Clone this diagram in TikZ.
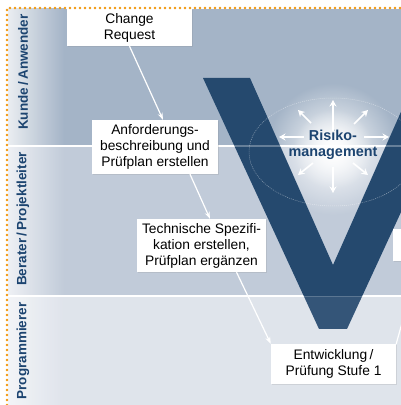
\documentclass[tikz,border=0pt]{standalone}
\usepackage{fontspec}
\setmainfont{Liberation Sans}
\usetikzlibrary{arrows.meta,shadows,fadings}

\definecolor{laneA}{RGB}{164,180,199}
\definecolor{laneB}{RGB}{193,203,217}
\definecolor{laneC}{RGB}{221,226,234}
\definecolor{stripA}{RGB}{234,237,241}
\definecolor{stripB}{RGB}{238,240,244}
\definecolor{stripC}{RGB}{242,244,247}
\definecolor{vblue}{RGB}{37,73,110}
\definecolor{labelblue}{RGB}{28,68,112}
\definecolor{dotorange}{RGB}{242,150,10}

\tikzfading[name=glowfade, inner color=transparent!0, outer color=transparent!100]

\begin{document}
\begin{tikzpicture}[x=1pt,y=1pt,
    box/.style={fill=white, align=center, inner sep=0pt,
      font=\fontsize{13.8}{16}\selectfont,
      drop shadow={shadow xshift=1pt,shadow yshift=-1.2pt,opacity=0.18}},
    lanelabel/.style={rotate=90, text=labelblue,
      font=\bfseries\fontsize{13.5}{15}\selectfont},
    flow/.style={white, line width=1.2pt, -{Stealth[length=7pt,width=5pt]}},
    ray/.style={white, line width=1.7pt, -{Stealth[length=6.5pt,width=7pt]}}]

\useasboundingbox (0,0) rectangle (401,405);
\clip (0,0) rectangle (401,405);
\fill[white] (0,0) rectangle (401,405);

% swim lanes
\fill[laneA] (8,259) rectangle (401,396);
\fill[laneB] (8,109) rectangle (401,259);
\fill[laneC] (8,0) rectangle (401,109);
\shade[left color=stripA, right color=laneA] (8,259) rectangle (64,396);
\shade[left color=stripB, right color=laneB] (8,109) rectangle (64,259);
\shade[left color=stripC, right color=laneC] (8,0) rectangle (64,109);
\draw[white, line width=2.6pt] (8,259) -- (401,259);
\draw[white, line width=2.6pt] (8,109) -- (401,109);

% glow behind the V
\fill[white, path fading=glowfade] (333,256) circle (66pt);
\fill[white, path fading=glowfade, fill opacity=0.9] (333,256) circle (40pt);

% the V
\fill[vblue] (203,327) -- (250,327) -- (333,140) -- (416,327) -- (463,327)
  -- (347,76) -- (319,76) -- cycle;
\fill[white, opacity=0.07] (8,0) rectangle (401,108);
\draw[white, opacity=0.3, line width=1.2pt] (8,259) -- (401,259);
\draw[white, opacity=0.25, line width=0.8pt] (8,109) -- (401,109);
\draw[white, opacity=0.45, line width=0.5pt, dash pattern=on 1pt off 1pt]
  (333,253) ellipse (84pt and 54pt);

% risk management
\node[align=center, text=labelblue, font=\bfseries\fontsize{14.4}{15.5}\selectfont]
  at (333,260) (rm) {Risiko-\\management};
\draw[ray] ([yshift=14pt]rm.center) -- ++(0,31);
\draw[ray] ([yshift=-22pt]rm.center) -- ++(0,-26);
\draw[ray] ([shift={(-29pt,8pt)}]rm.center) -- ++(-25,0);
\draw[ray] ([shift={(31pt,8pt)}]rm.center) -- ++(25,0);
\draw[ray] ([shift={(-22pt,22pt)}]rm.center) -- ++(-13,13);
\draw[ray] ([shift={(21pt,21pt)}]rm.center) -- ++(14,14);
\draw[ray] ([shift={(-20pt,-18pt)}]rm.center) -- ++(-15,-12);
\draw[ray] ([shift={(20pt,-18pt)}]rm.center) -- ++(15,-12);

% steps
\node[box, minimum width=125pt, minimum height=37pt] at (129.5,377.5) (cr) {Change\\Request};
\node[box, minimum width=126pt, minimum height=54pt] at (155,258) (ab) {Anforderungs-\\beschreibung und\\Prüfplan erstellen};
\node[box, minimum width=129pt, minimum height=53pt] at (201.5,159.5) (ts) {Technische Spezifi-\\kation erstellen,\\Prüfplan ergänzen};
\node[box, minimum width=125pt, minimum height=40pt] at (333.5,41) (ep) {Entwicklung\,/\\Prüfung Stufe 1};
\node[box, minimum width=124pt, minimum height=32pt] at (455,160) (rb) {};
\coordinate (next) at (404,89);

\draw[flow] (cr.south) to ([xshift=8pt]ab.north);
\draw[flow] ([xshift=35pt]ab.south) to ([xshift=8.5pt]ts.north);
\draw[flow] ([xshift=35pt]ts.south) to (ep.north west);
\draw[white, line width=1.2pt] (ep.north east) to (next);

% roles
\node[lanelabel] at (23,333) (kunde) {Kunde\,/\,Anwender};
\node[lanelabel] at (23,186) (berater) {Berater\,/\,Projektleiter};
\node[lanelabel] at (23,54) (prog) {Programmierer};

% frame
\draw[dotorange, line width=2.8pt, line cap=round, dash pattern=on 0pt off 5pt]
  (7,0) -- (7,397) -- (401,397);
\end{tikzpicture}
\end{document}
